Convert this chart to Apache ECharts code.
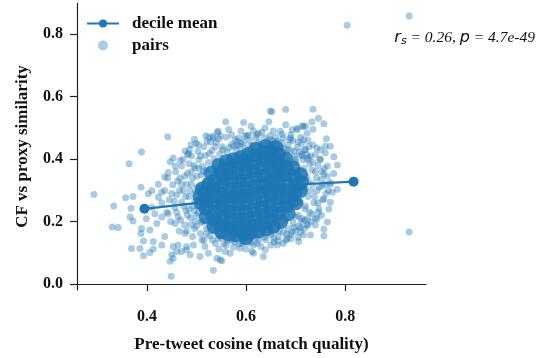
<!DOCTYPE html>
<html>
<head>
<meta charset="utf-8">
<script src="https://cdn.jsdelivr.net/npm/echarts@6/dist/echarts.min.js"></script>
<style>
  body { margin: 0; background: #fff; }
  #chart { width: 539px; height: 358px; }
</style>
</head>
<body>
<div id="chart"></div>
<script>
// decile means of pre-tweet cosine vs CF-proxy similarity
let decileX = [0.395, 0.525, 0.555, 0.58, 0.6, 0.62, 0.64, 0.665, 0.695, 0.817]
let decileY = [0.241, 0.264, 0.274, 0.283, 0.291, 0.297, 0.303, 0.31, 0.318, 0.328]

let xTicks = [0.4, 0.6, 0.8]
let yTicks = [0.0, 0.2, 0.4, 0.6, 0.8]

// sparse pairs (outer part of the cloud)
let pairsOuter = [
  [0.293,0.287],[0.333,0.25],[0.33,0.183],[0.342,0.181],[0.357,0.276],[0.372,0.28],[0.368,0.243],[0.366,0.215],
  [0.372,0.202],[0.369,0.114],[0.386,0.114],[0.393,0.091],[0.393,0.138],[0.388,0.31],[0.389,0.178],[0.388,0.162],
  [0.413,0.112],[0.406,0.101],[0.449,0.025],[0.447,0.073],[0.45,0.094],[0.413,0.136],[0.406,0.173],[0.403,0.289],
  [0.41,0.299],[0.423,0.32],[0.43,0.294],[0.436,0.343],[0.447,0.392],[0.457,0.378],[0.467,0.396],[0.484,0.417],
  [0.443,0.357],[0.423,0.278],[0.42,0.194],[0.43,0.215],[0.436,0.152],[0.43,0.125],[0.453,0.12],[0.463,0.125],
  [0.47,0.104],[0.477,0.162],[0.457,0.194],[0.443,0.225],[0.41,0.246],[0.416,0.225],[0.399,0.209],
  [0.389,0.423],[0.364,0.385],[0.442,0.472],
  [0.534,0.044],[0.548,0.078],[0.507,0.088],[0.48,0.12],[0.615,0.099],[0.635,0.088],[0.568,0.099],[0.588,0.115],
  [0.541,0.083],[0.551,0.075],[0.524,0.099],[0.487,0.094],[0.48,0.11],[0.517,0.12],[0.558,0.104],[0.612,0.104],
  [0.639,0.11],[0.663,0.125],[0.683,0.146],[0.706,0.136],[0.716,0.157],[0.656,0.146],[0.622,0.131],[0.595,0.136],
  [0.575,0.146],[0.544,0.146],[0.511,0.141],[0.494,0.125],[0.46,0.104],[0.453,0.083],[0.598,0.152],[0.693,0.167],
  [0.735,0.56],[0.746,0.531],[0.733,0.52],[0.757,0.513],[0.72,0.505],[0.735,0.496],[0.762,0.465],[0.76,0.441],
  [0.77,0.441],[0.74,0.415],[0.777,0.408],[0.784,0.381],[0.764,0.378],[0.777,0.354],[0.757,0.352],[0.784,0.304],
  [0.774,0.294],[0.77,0.262],[0.757,0.273],[0.764,0.199],[0.74,0.189],[0.757,0.176],[0.757,0.155],[0.929,0.167],
  [0.743,0.209],[0.723,0.189],[0.716,0.462],[0.703,0.494],[0.743,0.436],[0.75,0.399],[0.77,0.325],[0.754,0.315],
  [0.747,0.241],[0.733,0.225],[0.73,0.157],[0.71,0.167],
  [0.559,0.52],[0.595,0.517],[0.649,0.554],[0.68,0.559],[0.646,0.52],[0.496,0.464],[0.499,0.45],[0.519,0.475],
  [0.533,0.473],[0.542,0.486],[0.54,0.454],[0.486,0.431],[0.482,0.415],[0.578,0.462],[0.598,0.473],[0.625,0.483],
  [0.632,0.486],[0.669,0.489],[0.693,0.494],[0.703,0.499],[0.715,0.505],[0.723,0.483],[0.649,0.462],[0.663,0.457],
  [0.69,0.468],[0.575,0.441],[0.588,0.441],[0.473,0.399],[0.489,0.446],[0.477,0.426],[0.453,0.404],[0.504,0.446],
  [0.521,0.457],[0.534,0.468],[0.544,0.489],[0.571,0.478],[0.582,0.457],[0.602,0.476],[0.622,0.478],[0.652,0.552],
  [0.714,0.506],[0.804,0.829],[0.929,0.858]
]

// medium density ring around the core
let pairsRing = [
  [0.485,0.385],[0.497,0.372],[0.505,0.398],[0.512,0.377],[0.518,0.412],[0.524,0.389],[0.531,0.428],[0.536,0.401],
  [0.541,0.378],[0.547,0.417],[0.552,0.44],[0.556,0.395],[0.562,0.423],[0.567,0.405],[0.571,0.448],[0.576,0.386],
  [0.58,0.43],[0.585,0.412],[0.59,0.452],[0.594,0.397],[0.598,0.435],[0.603,0.418],[0.608,0.46],[0.612,0.402],
  [0.616,0.441],[0.62,0.425],[0.625,0.455],[0.629,0.409],[0.633,0.437],[0.637,0.468],[0.641,0.42],[0.645,0.447],
  [0.65,0.43],[0.654,0.458],[0.658,0.412],[0.663,0.44],[0.667,0.425],[0.672,0.452],[0.676,0.435],[0.68,0.418],
  [0.685,0.445],[0.689,0.428],[0.694,0.46],[0.698,0.41],[0.703,0.438],[0.708,0.422],[0.712,0.45],[0.718,0.43],
  [0.722,0.415],[0.727,0.44],
  [0.52,0.365],[0.535,0.352],[0.55,0.372],[0.565,0.36],[0.58,0.37],[0.595,0.38],[0.61,0.375],[0.625,0.39],
  [0.64,0.395],[0.655,0.39],[0.67,0.4],[0.685,0.395],[0.7,0.39],[0.715,0.398],[0.49,0.41],[0.503,0.425],
  [0.515,0.44],[0.528,0.455],[0.545,0.465],[0.56,0.47],[0.585,0.468],[0.605,0.477],[0.62,0.47],[0.648,0.475],
  [0.66,0.47],[0.675,0.468],[0.69,0.478],[0.71,0.47],[0.725,0.46],
  [0.48,0.17],[0.492,0.152],[0.5,0.185],[0.508,0.162],[0.515,0.14],[0.52,0.178],[0.527,0.155],[0.533,0.19],
  [0.538,0.13],[0.544,0.167],[0.55,0.148],[0.555,0.182],[0.56,0.125],[0.565,0.16],[0.57,0.14],[0.575,0.175],
  [0.58,0.155],[0.586,0.128],[0.59,0.168],[0.595,0.145],[0.6,0.185],[0.605,0.16],[0.61,0.132],[0.615,0.172],
  [0.62,0.15],[0.626,0.188],[0.63,0.12],[0.635,0.165],[0.64,0.142],[0.645,0.18],[0.65,0.158],[0.656,0.135],
  [0.66,0.175],[0.665,0.152],[0.67,0.19],[0.675,0.165],[0.68,0.14],[0.685,0.178],[0.69,0.158],[0.695,0.195],
  [0.7,0.17],[0.706,0.185],[0.712,0.2],[0.718,0.178],[0.724,0.21],
  [0.51,0.198],[0.525,0.205],[0.54,0.2],[0.56,0.198],[0.58,0.19],[0.6,0.198],[0.62,0.195],[0.64,0.2],
  [0.66,0.205],[0.68,0.205],[0.7,0.215],[0.545,0.112],[0.575,0.118],[0.6,0.112],[0.625,0.14],[0.65,0.125],
  [0.675,0.13],
  [0.43,0.26],[0.436,0.3],[0.44,0.23],[0.445,0.27],[0.448,0.2],[0.452,0.318],[0.456,0.245],[0.46,0.285],
  [0.463,0.215],[0.467,0.34],[0.47,0.262],[0.473,0.3],[0.476,0.19],[0.479,0.235],[0.482,0.355],[0.485,0.28],
  [0.488,0.212],[0.49,0.32],[0.493,0.25],[0.496,0.178],[0.498,0.295],[0.501,0.345],[0.504,0.228],[0.506,0.268],
  [0.509,0.31],[0.511,0.2],[0.514,0.36],[0.516,0.245],[0.519,0.33],[0.521,0.285],[0.524,0.215],[0.458,0.36],
  [0.47,0.378],[0.485,0.24],[0.45,0.29],[0.442,0.34],[0.465,0.17],[0.48,0.32],[0.495,0.38],[0.5,0.22],
  [0.51,0.35],
  [0.705,0.22],[0.708,0.36],[0.71,0.26],[0.713,0.41],[0.716,0.3],[0.719,0.24],[0.722,0.345],[0.725,0.28],
  [0.728,0.385],[0.731,0.2],[0.734,0.32],[0.737,0.26],[0.74,0.36],[0.743,0.3],[0.746,0.23],[0.749,0.4],
  [0.752,0.335],[0.755,0.27],[0.758,0.37],[0.761,0.29],[0.764,0.345],[0.767,0.24],[0.72,0.43],[0.735,0.445],
  [0.75,0.43],[0.73,0.41],[0.745,0.38],[0.7,0.4],[0.71,0.18],[0.725,0.19],[0.74,0.21],[0.77,0.32],
  [0.715,0.335],
  [0.508,0.41],[0.526,0.418],[0.538,0.44],[0.553,0.43],[0.566,0.437],[0.583,0.445],[0.596,0.455],[0.61,0.443],
  [0.628,0.448],[0.643,0.458],[0.657,0.445],[0.67,0.438],[0.683,0.43],[0.697,0.425],[0.712,0.415],[0.726,0.405],
  [0.705,0.455],[0.688,0.462],[0.673,0.48],[0.655,0.49],[0.638,0.5],[0.615,0.49],[0.59,0.49],[0.565,0.495],
  [0.548,0.475],[0.525,0.47],[0.61,0.505],[0.68,0.51],
  [0.47,0.32],[0.478,0.28],[0.487,0.3],[0.492,0.34],[0.497,0.265],[0.502,0.31],[0.496,0.235],[0.488,0.19],
  [0.482,0.22],[0.474,0.25],[0.466,0.3],[0.46,0.23],[0.455,0.265],[0.468,0.205],[0.49,0.36],[0.505,0.37],
  [0.498,0.2],[0.503,0.25],[0.477,0.345],[0.462,0.33],
  [0.52,0.16],[0.532,0.142],[0.547,0.155],[0.562,0.14],[0.577,0.135],[0.592,0.13],[0.607,0.145],[0.622,0.158],
  [0.637,0.15],[0.652,0.165],[0.667,0.17],[0.682,0.16],[0.697,0.18],[0.712,0.21],[0.555,0.128],[0.615,0.125],
  [0.665,0.138],[0.69,0.145],[0.705,0.15],[0.53,0.172],
  [0.72,0.25],[0.725,0.33],[0.73,0.3],[0.733,0.365],[0.738,0.28],[0.742,0.34],[0.728,0.23],[0.735,0.39],
  [0.748,0.31],[0.753,0.36],[0.76,0.32],[0.766,0.3],[0.717,0.37],[0.724,0.4],[0.745,0.26],[0.752,0.22],
  [0.718,0.205],[0.76,0.42]
]

// dense core, where the pairs pile up into solid colour
let pairsCore = [
  [0.519,0.243],[0.521,0.268],[0.518,0.292],
  [0.536,0.206],[0.538,0.231],[0.535,0.257],[0.537,0.281],[0.534,0.306],[0.536,0.33],
  [0.552,0.19],[0.554,0.216],[0.551,0.24],[0.553,0.266],[0.55,0.29],[0.552,0.316],[0.555,0.34],[0.551,0.358],
  [0.568,0.182],[0.57,0.206],[0.567,0.231],[0.569,0.255],[0.566,0.281],[0.568,0.305],[0.571,0.33],[0.567,0.355],[0.569,0.374],
  [0.584,0.18],[0.586,0.206],[0.583,0.23],[0.585,0.256],[0.582,0.28],[0.584,0.306],[0.587,0.331],[0.583,0.356],[0.585,0.383],
  [0.6,0.183],[0.602,0.208],[0.599,0.232],[0.601,0.258],[0.598,0.283],[0.6,0.308],[0.603,0.333],[0.599,0.357],[0.601,0.381],[0.6,0.396],
  [0.617,0.188],[0.619,0.213],[0.616,0.238],[0.618,0.263],[0.615,0.288],[0.617,0.313],[0.62,0.338],[0.616,0.362],[0.618,0.388],
  [0.633,0.196],[0.635,0.22],[0.632,0.246],[0.634,0.271],[0.631,0.296],[0.633,0.321],[0.636,0.346],[0.632,0.371],[0.634,0.398],
  [0.649,0.206],[0.651,0.231],[0.648,0.256],[0.65,0.281],[0.647,0.306],[0.649,0.331],[0.652,0.356],[0.648,0.38],[0.65,0.4],
  [0.665,0.226],[0.667,0.251],[0.664,0.276],[0.666,0.3],[0.663,0.325],[0.665,0.35],[0.668,0.374],[0.664,0.391],
  [0.681,0.25],[0.683,0.275],[0.68,0.3],[0.682,0.325],[0.679,0.35],[0.681,0.374],
  [0.698,0.29],[0.7,0.316],[0.697,0.343],
  [0.56,0.392],[0.575,0.398],[0.59,0.405],[0.605,0.415],[0.62,0.412],[0.635,0.422],[0.65,0.425],[0.665,0.415],
  [0.68,0.4],[0.695,0.372],[0.71,0.35],[0.545,0.38],[0.53,0.355],[0.64,0.44],[0.66,0.437],[0.62,0.432],
  [0.535,0.185],[0.55,0.168],[0.565,0.16],[0.58,0.158],[0.595,0.16],[0.61,0.165],[0.625,0.17],[0.64,0.176],
  [0.655,0.185],[0.67,0.2],[0.685,0.225],[0.7,0.26],[0.52,0.215],[0.6,0.148],
  [0.51,0.26],[0.507,0.28],[0.512,0.305],[0.525,0.32],[0.71,0.3],[0.712,0.325],[0.695,0.268]
]

let blue = '#1f77b4'
let serif = '"Liberation Serif", "DejaVu Serif", serif'

let chart = echarts.init(document.getElementById('chart'))
let option = {
  animation: false,
  grid: { left: 77, right: 113, top: 3, bottom: 63 },
  legend: {
    left: 81,
    top: 10,
    orient: 'vertical',
    itemWidth: 32,
    itemHeight: 10,
    itemGap: 5,
    textStyle: { fontFamily: serif, fontWeight: 'bold', fontSize: 17, color: '#111', padding: [0, 0, 0, 8] },
    data: ['decile mean', 'pairs']
  },
  xAxis: {
    type: 'value',
    min: 0.259,
    max: 0.963,
    name: 'Pre-tweet cosine (match quality)',
    nameLocation: 'middle',
    nameGap: 46,
    nameTextStyle: { fontFamily: serif, fontWeight: 'bold', fontSize: 17, color: '#111' },
    axisLine: { lineStyle: { color: '#222', width: 1.2 } },
    axisTick: { customValues: xTicks, length: 7, lineStyle: { color: '#222', width: 1.2 } },
    axisLabel: {
      customValues: xTicks,
      margin: 19,
      formatter: v => v.toFixed(1),
      fontFamily: serif, fontWeight: 'bold', fontSize: 16, color: '#111'
    },
    splitLine: { show: false }
  },
  yAxis: {
    type: 'value',
    min: -0.019,
    max: 0.9,
    name: 'CF vs proxy similarity',
    nameLocation: 'middle',
    nameGap: 46,
    nameTextStyle: { fontFamily: serif, fontWeight: 'bold', fontSize: 17, color: '#111' },
    axisLine: { lineStyle: { color: '#222', width: 1.2 } },
    axisTick: { customValues: yTicks, length: 7, lineStyle: { color: '#222', width: 1.2 } },
    axisLabel: {
      customValues: yTicks,
      margin: 14,
      formatter: v => v.toFixed(1),
      fontFamily: serif, fontWeight: 'bold', fontSize: 16, color: '#111'
    },
    splitLine: { show: false }
  },
  graphic: [{
    type: 'text',
    right: 4,
    top: 30,
    style: {
      text: '{v|r}{s|s}{t| = 0.26, }{v|p}{t| = 4.7e-49}',
      rich: {
        v: { fontFamily: '"DejaVu Sans"', fontStyle: 'italic', fontSize: 16, fill: '#111' },
        s: { fontFamily: '"DejaVu Sans"', fontStyle: 'italic', fontSize: 11, fill: '#111', padding: [7, 0, 0, 0] },
        t: { fontFamily: serif, fontStyle: 'italic', fontSize: 15.5, fill: '#111' }
      }
    }
  }],
  series: [
    {
      name: 'decile mean',
      type: 'line',
      z: 1,
      symbol: 'circle',
      symbolSize: 10,
      itemStyle: { color: blue },
      lineStyle: { color: blue, width: 2.2 },
      data: decileX.map((x, i) => [x, decileY[i]])
    },
    {
      name: 'pairs',
      type: 'scatter',
      z: 2,
      symbolSize: 7,
      itemStyle: { color: blue, opacity: 0.38 },
      data: pairsOuter.concat(pairsRing)
    },
    {
      name: 'pairs',
      type: 'scatter',
      z: 2,
      symbolSize: 15,
      itemStyle: { color: blue, opacity: 0.85 },
      data: pairsCore
    }
  ]
}
chart.setOption(option)
</script>
</body>
</html>
